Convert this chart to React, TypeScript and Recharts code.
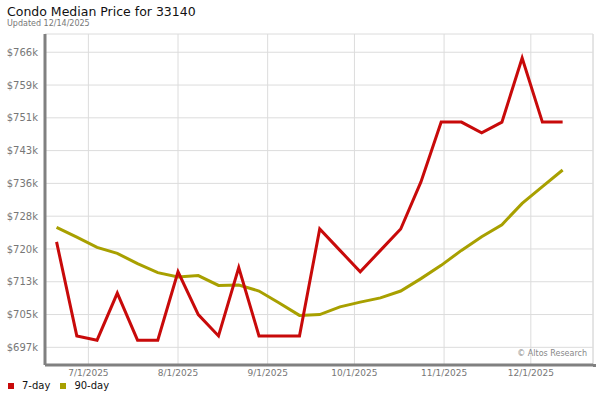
import React from 'react';
import { LineChart, Line, XAxis, YAxis, CartesianGrid, ReferenceLine } from 'recharts';

const dates = [
  '2025-06-20', '2025-06-27', '2025-07-04', '2025-07-11', '2025-07-18', '2025-07-25',
  '2025-08-01', '2025-08-08', '2025-08-15', '2025-08-22', '2025-08-29', '2025-09-05',
  '2025-09-12', '2025-09-19', '2025-09-26', '2025-10-03', '2025-10-10', '2025-10-17',
  '2025-10-24', '2025-10-31', '2025-11-07', '2025-11-14', '2025-11-21', '2025-11-28',
  '2025-12-05', '2025-12-12',
];

// 7-day median price ($)
const sevenDay = [
  722000, 700000, 699000, 710000, 699000, 699000,
  715000, 705000, 700000, 716000, 700000, 700000,
  700000, 725000, 720000, 715000, 720000, 725000,
  736000, 750000, 750000, 747500, 750000, 765000,
  750000, 750000,
];

// 90-day median price ($)
const ninetyDay = [
  725400, 723100, 720700, 719300, 716900, 714800,
  713800, 714100, 711800, 711900, 710500, 707700,
  704800, 705000, 706800, 707900, 708900, 710500,
  713400, 716500, 720000, 723200, 726000, 731000,
  734900, 738800,
];

const yTicks = [697333, 705000, 712667, 720333, 728000, 735667, 743333, 751000, 758667, 766333];
const monthTicks = ['2025-07-01', '2025-08-01', '2025-09-01', '2025-10-01', '2025-11-01', '2025-12-01'];

const toTs = (s: string) => new Date(s + 'T00:00:00Z').getTime();

const data = dates.map((d, i) => ({ t: toTs(d), seven: sevenDay[i], ninety: ninetyDay[i] }));

const xMin = toTs('2025-06-16');
const xMax = toTs('2025-12-22') + 12 * 3600 * 1000;

const RED = '#c80a0a';
const OLIVE = '#a8a000';
const GRID = '#dcdcdc';
const AXIS = '#808080';
const FONT = '"DejaVu Sans", Verdana, sans-serif';

const fmtDate = (v: number) => {
  const d = new Date(v);
  return `${d.getUTCMonth() + 1}/${d.getUTCDate()}/${d.getUTCFullYear()}`;
};

const App: React.FC = () => {
  return (
    <div style={{ position: 'absolute', left: 0, top: 0, width: 600, height: 400, background: '#fff', fontFamily: FONT }}>
      <div style={{ position: 'absolute', left: 7, top: 4, fontSize: 12.5, color: '#111', whiteSpace: 'nowrap' }}>
        Condo Median Price for 33140
      </div>
      <div style={{ position: 'absolute', left: 7, top: 19, fontSize: 8, color: '#777', whiteSpace: 'nowrap' }}>
        Updated 12/14/2025
      </div>

      <LineChart width={600} height={400} data={data} margin={{ top: 34, right: 7, bottom: 15, left: 5 }}>
        <CartesianGrid stroke={GRID} strokeWidth={1} />
        <XAxis
          type="number"
          dataKey="t"
          domain={[xMin, xMax]}
          ticks={monthTicks.map(toTs)}
          tickFormatter={fmtDate}
          height={20}
          tickLine={false}
          tickSize={4}
          tickMargin={1}
          axisLine={{ stroke: AXIS, strokeWidth: 3 }}
          tick={{ fill: '#777', fontSize: 9, fontFamily: FONT }}
          allowDataOverflow
        />
        <YAxis
          type="number"
          domain={[693200, 770600]}
          ticks={yTicks}
          tickFormatter={(v: number) => `$${Math.round(v / 1000)}k`}
          width={40}
          tickLine={false}
          tickMargin={1}
          axisLine={{ stroke: AXIS, strokeWidth: 3 }}
          tick={{ fill: '#777', fontSize: 10, fontFamily: FONT }}
          allowDataOverflow
        />
        <ReferenceLine x={xMax} stroke={GRID} strokeWidth={1} />
        <Line type="linear" dataKey="ninety" stroke={OLIVE} strokeWidth={3} dot={false} isAnimationActive={false} />
        <Line type="linear" dataKey="seven" stroke={RED} strokeWidth={3} dot={false} isAnimationActive={false} />
      </LineChart>

      {/* bottom frame runs a bit past the plot */}
      <div style={{ position: 'absolute', left: 593, top: 363.5, width: 3, height: 3, background: AXIS }} />

      <div style={{ position: 'absolute', right: 13, top: 349, fontSize: 8, color: '#888', whiteSpace: 'nowrap' }}>
        © Altos Research
      </div>

      <div style={{ position: 'absolute', left: 8, top: 380, display: 'flex', alignItems: 'center', fontSize: 10, color: '#111' }}>
        <div style={{ width: 6, height: 6, background: RED, marginRight: 8 }} />
        <span style={{ marginRight: 10 }}>7-day</span>
        <div style={{ width: 6, height: 6, background: OLIVE, marginRight: 8 }} />
        <span>90-day</span>
      </div>
    </div>
  );
};

export default App;
